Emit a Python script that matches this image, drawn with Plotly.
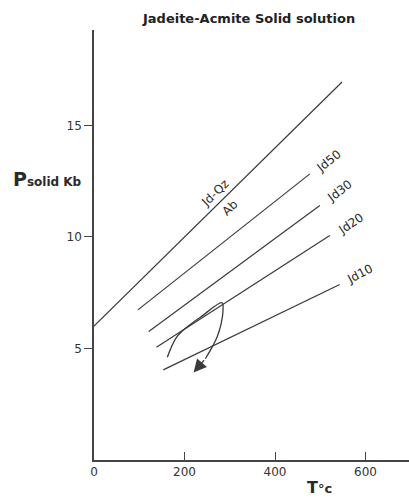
import plotly.graph_objects as go

# Reaction lines (T in °C, P in kb)
jdqz_T = [0, 548]
jdqz_P = [6.0, 16.95]
jd50_T = [97, 477]
jd50_P = [6.73, 12.83]
jd30_T = [121, 499]
jd30_P = [5.76, 11.41]
jd20_T = [138, 521]
jd20_P = [5.06, 10.07]
jd10_T = [153, 543]
jd10_P = [4.04, 7.87]

# Curved P-T path
path_T = [162, 180, 195, 235, 283, 285, 281, 272, 261, 246]
path_P = [4.61, 5.43, 5.78, 6.4, 7.05, 6.70, 6.11, 5.51, 5.06, 4.54]
arrow_tip_T = 220
arrow_tip_P = 3.92

# Labels
label_text = ["Jd-Qz", "Ab", "Jd50", "Jd30", "Jd20", "Jd10"]
label_T = [268, 300, 519, 543, 567, 587]
label_P = [11.95, 11.3, 13.4, 12.05, 10.59, 8.35]
label_angle = [-44, -44, -39, -37, -34, -28]

x_ticks = [0, 200, 400, 600]
y_ticks = [5, 10, 15]

line_color = "#3a3a3a"
text_color = "#2a2a2a"
fig = go.Figure()
for T, P in [(jdqz_T, jdqz_P), (jd50_T, jd50_P), (jd30_T, jd30_P),
             (jd20_T, jd20_P), (jd10_T, jd10_P)]:
    fig.add_trace(go.Scatter(x=T, y=P, mode="lines",
                             line=dict(color=line_color, width=1.2),
                             showlegend=False, hoverinfo="skip"))

fig.add_trace(go.Scatter(x=path_T, y=path_P, mode="lines",
                         line=dict(color=line_color, width=1.3, shape="spline"),
                         showlegend=False, hoverinfo="skip"))

fig.add_annotation(x=arrow_tip_T, y=arrow_tip_P, ax=path_T[-1], ay=path_P[-1],
                   xref="x", yref="y", axref="x", ayref="y", text="",
                   showarrow=True, arrowhead=2, arrowsize=2, arrowwidth=1.3,
                   arrowcolor=line_color)

for t, xx, yy, a in zip(label_text, label_T, label_P, label_angle):
    fig.add_annotation(x=xx, y=yy, text=t, showarrow=False, textangle=a,
                       font=dict(family="DejaVu Sans", size=12, color=text_color))

fig.add_annotation(xref="paper", yref="paper", x=-0.149, y=0.653,
                   xanchor="center", yanchor="middle",
                   text="<b>P<span style='font-size:12px'>solid Kb</span></b>",
                   showarrow=False,
                   font=dict(family="DejaVu Sans", size=19, color=text_color))
fig.add_annotation(xref="paper", yref="paper", x=0.717, y=-0.063,
                   xanchor="center", yanchor="middle",
                   text="<b>T<span style='font-size:13px'>°c</span></b>",
                   showarrow=False,
                   font=dict(family="DejaVu Sans", size=16, color=text_color))

fig.update_layout(
    width=409, height=498,
    margin=dict(l=94, r=0, t=30, b=38),
    paper_bgcolor="white", plot_bgcolor="white",
    title=dict(text="<b>Jadeite-Acmite Solid solution</b>",
               x=0.609, xanchor="center", y=1 - 18 / 498, yanchor="middle",
               font=dict(family="DejaVu Sans", size=13, color="#222")),
    xaxis=dict(range=[0, 696], tickvals=x_ticks, showgrid=False, zeroline=False,
               showline=True, linecolor="#444", linewidth=1.5,
               ticks="inside", ticklen=8, tickwidth=1.3, tickcolor="#444",
               tickfont=dict(family="DejaVu Sans", size=12, color="#333")),
    yaxis=dict(range=[0, 19.28], tickvals=y_ticks, showgrid=False, zeroline=False,
               showline=True, linecolor="#444", linewidth=1.5,
               ticks="outside", ticklen=8, tickwidth=1.3, tickcolor="#444",
               tickfont=dict(family="DejaVu Sans", size=12, color="#333")),
)

fig.write_html("out.html", config={"displayModeBar": False},
               post_script="document.body.style.margin='0';"
                           "document.body.style.overflow='hidden';")
